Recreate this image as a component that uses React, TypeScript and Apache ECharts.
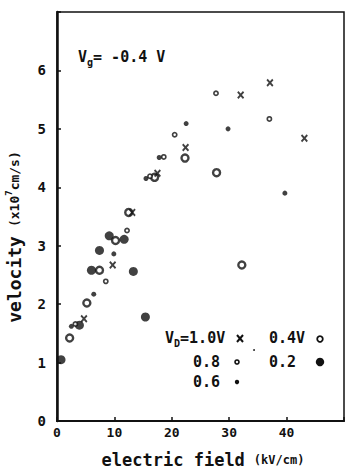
import React, { useEffect, useRef } from "react";
import * as echarts from "echarts";

// V_D = 1.0 V (x marks)
const vd10X = [4.7, 9.7, 13.1, 17.5, 22.4, 32.0, 37.1, 43.1];
const vd10Y = [1.75, 2.67, 3.57, 4.24, 4.68, 5.58, 5.79, 4.84];
// V_D = 0.8 V (small open circles)
const vd08X = [3.2, 8.5, 12.2, 16.2, 18.6, 20.5, 27.7, 37.0];
const vd08Y = [1.66, 2.39, 3.26, 4.19, 4.52, 4.9, 5.61, 5.17];
// V_D = 0.6 V (small filled dots)
const vd06X = [2.5, 6.4, 9.9, 15.5, 17.8, 22.5, 29.8, 39.7];
const vd06Y = [1.62, 2.17, 2.86, 4.15, 4.51, 5.09, 5.0, 3.9];
// V_D = 0.4 V (large open circles)
const vd04X = [2.2, 5.2, 7.4, 10.2, 12.5, 17.0, 22.3, 27.8, 32.2];
const vd04Y = [1.42, 2.02, 2.58, 3.09, 3.57, 4.17, 4.5, 4.25, 2.67];
// V_D = 0.2 V (large filled circles)
const vd02X = [0.7, 3.9, 6.0, 7.4, 9.1, 11.7, 13.3, 15.4];
const vd02Y = [1.05, 1.64, 2.58, 2.92, 3.17, 3.11, 2.56, 1.78];

const xTicks = [0, 10, 20, 30, 40];
const yTicks = [0, 1, 2, 3, 4, 5, 6];

const FONT = "'DejaVu Sans Mono', monospace";
const INK = "#111111";

const pairs = (xs: number[], ys: number[]) => xs.map((x, i) => [x, ys[i]]);

const crossPath =
  "path://M0,1.8L1.8,0L5,3.2L8.2,0L10,1.8L6.8,5L10,8.2L8.2,10L5,6.8L1.8,10L0,8.2L3.2,5Z";

export default function App() {
  const ref = useRef<HTMLDivElement>(null);
  useEffect(() => {
    if (!ref.current) return;
    const chart = echarts.init(ref.current, null, { renderer: "svg" });
    const txt = (x: number, y: number, text: string, rich: any, align = "left", extra: any = {}) => ({
      type: "text",
      x,
      y,
      ...extra,
      style: {
        text,
        rich,
        fill: INK,
        align,
        textAlign: align,
        verticalAlign: "middle",
        textVerticalAlign: "middle",
        fontFamily: FONT,
        fontWeight: "bold",
        fontSize: 15,
      },
    });
    const main = (fs: number, lh: number) => ({ fontFamily: FONT, fontWeight: "bold", fontSize: fs, lineHeight: lh, color: INK, verticalAlign: "middle" });
    const sub = (fs: number) => ({ fontFamily: FONT, fontWeight: "bold", fontSize: fs, lineHeight: fs, color: INK, verticalAlign: "bottom" });
    const sup = (fs: number) => ({ fontFamily: FONT, fontWeight: "bold", fontSize: fs, lineHeight: fs, color: INK, verticalAlign: "top" });

    chart.setOption({
      animation: false,
      backgroundColor: "#ffffff",
      grid: { left: 57, top: 12, right: 1, bottom: 49, show: true, borderColor: INK, borderWidth: 1.5, backgroundColor: "transparent" },
      xAxis: {
        type: "value",
        min: 0,
        max: 50,
        interval: 10,
        axisLine: { onZero: false, lineStyle: { color: INK, width: 2.2 } },
        axisTick: { inside: true, length: 4, lineStyle: { color: INK, width: 1.5 } },
        axisLabel: {
          margin: 5,
          color: INK,
          fontFamily: FONT,
          fontWeight: "bold",
          fontSize: 13,
          formatter: (v: number) => (xTicks.includes(v) ? String(v) : ""),
        },
        splitLine: { show: false },
      },
      yAxis: {
        type: "value",
        min: 0,
        max: 7,
        interval: 1,
        axisLine: { onZero: false, lineStyle: { color: INK, width: 2.5 } },
        axisTick: { inside: true, length: 4, lineStyle: { color: INK, width: 1.5 } },
        axisLabel: {
          margin: 11,
          color: INK,
          fontFamily: FONT,
          fontWeight: "bold",
          fontSize: 14,
          formatter: (v: number) => (yTicks.includes(v) ? String(v) : ""),
        },
        splitLine: { show: false },
      },
      series: [
        {
          name: "0.2V",
          type: "scatter",
          data: pairs(vd02X, vd02Y),
          symbol: "circle",
          symbolSize: 9,
          itemStyle: { color: INK },
          z: 2,
        },
        {
          name: "0.4V",
          type: "scatter",
          data: pairs(vd04X, vd04Y),
          symbol: "circle",
          symbolSize: 7,
          itemStyle: { color: "#ffffff", borderColor: INK, borderWidth: 2.4 },
          z: 3,
        },
        {
          name: "0.6V",
          type: "scatter",
          data: pairs(vd06X, vd06Y),
          symbol: "circle",
          symbolSize: 5,
          itemStyle: { color: INK },
          z: 4,
        },
        {
          name: "0.8V",
          type: "scatter",
          data: pairs(vd08X, vd08Y),
          symbol: "circle",
          symbolSize: 4.2,
          itemStyle: { color: "#ffffff", borderColor: INK, borderWidth: 1.7 },
          z: 5,
        },
        {
          name: "1.0V",
          type: "scatter",
          data: pairs(vd10X, vd10Y),
          symbol: crossPath,
          symbolSize: [7, 8],
          itemStyle: { color: INK },
          z: 6,
        },
      ],
      graphic: [
        // V_g annotation
        txt(78, 57, "{a|V}{b|g}{a|= -0.4 V}", { a: main(15, 20), b: sub(10) }),
        // y axis name
        txt(14, 237, "{a|velocity} {b|(x10}{c|7}{b|cm/s)}", { a: main(18, 20), b: main(13, 20), c: sup(9) }, "center", { rotation: Math.PI / 2 }),
        // x axis name
        txt(203, 460, "{a|electric field} {b|(kV/cm)}", { a: main(17, 20), b: main(12, 20) }, "center"),
        // legend
        txt(165, 338, "{a|V}{b|D}{a|=1.0V}", { a: main(15, 20), b: sub(10) }),
        { type: "line", shape: { x1: 237, y1: 335, x2: 243, y2: 342 }, style: { stroke: INK, lineWidth: 2 } },
        { type: "line", shape: { x1: 243, y1: 335, x2: 237, y2: 342 }, style: { stroke: INK, lineWidth: 2 } },
        { type: "circle", shape: { cx: 254, cy: 350, r: 0.9 }, style: { fill: INK } },
        txt(269, 338, "0.4V", { a: main(15, 20) }),
        { type: "circle", shape: { cx: 320, cy: 339, r: 2.8 }, style: { fill: "#fff", stroke: INK, lineWidth: 1.8 } },
        txt(193, 362, "0.8", { a: main(15, 20) }),
        { type: "circle", shape: { cx: 237, cy: 362, r: 2 }, style: { fill: "#fff", stroke: INK, lineWidth: 1.6 } },
        txt(269, 362, "0.2", { a: main(15, 20) }),
        { type: "circle", shape: { cx: 320, cy: 362, r: 4.2 }, style: { fill: INK } },
        txt(193, 382, "0.6", { a: main(15, 20) }),
        { type: "circle", shape: { cx: 237, cy: 382, r: 2.2 }, style: { fill: INK } },
      ],
    });
    return () => chart.dispose();
  }, []);
  return <div ref={ref} style={{ position: "fixed", left: 0, top: 0, width: 347, height: 470 }} />;
}
